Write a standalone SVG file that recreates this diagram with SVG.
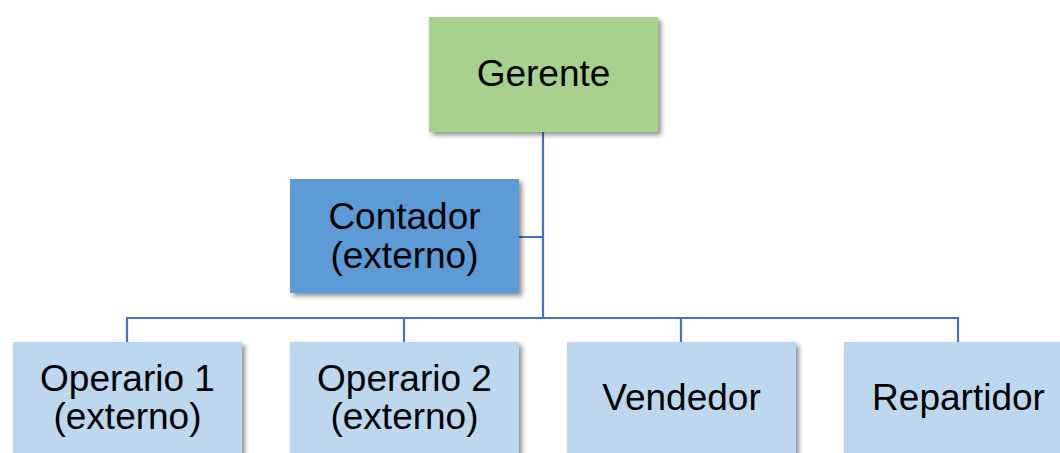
<svg xmlns="http://www.w3.org/2000/svg" width="1060" height="453" viewBox="0 0 1060 453">
<defs>
<filter id="sh" x="-10%" y="-10%" width="125%" height="130%">
<feGaussianBlur in="SourceAlpha" stdDeviation="2.5"/>
<feOffset dx="3" dy="3" result="b"/>
<feComponentTransfer><feFuncA type="linear" slope="0.45"/></feComponentTransfer>
<feMerge><feMergeNode/><feMergeNode in="SourceGraphic"/></feMerge>
</filter>
<style>
.box{filter:url(#sh);}
.g{fill:#A9D18E;}
.c{fill:#5B9BD5;}
.l{fill:#BDD7EE;}
text{font-family:"Liberation Sans",Arial,sans-serif;font-size:37px;fill:#000;text-anchor:middle;}
.conn{stroke:#4472C4;stroke-width:2.2;fill:none;}
</style>
</defs>
<rect width="1060" height="453" fill="#fff"/>
<g id="connectors">
<path class="conn" d="M543 132 V318 M519 237 H543 M127 342 V318 H958 V342 M404 318 V342 M681 318 V342"/>
</g>
<g id="gerente">
<rect class="box g" x="429" y="17" width="229" height="115"/>
<text x="543.5" y="86">Gerente</text>
</g>
<g id="contador">
<rect class="box c" x="290" y="179" width="229" height="114"/>
<text x="404.5" y="229">Contador</text>
<text x="404.5" y="268">(externo)</text>
</g>
<g id="operario1">
<rect class="box l" x="13" y="342" width="229" height="120"/>
<text x="127.5" y="391">Operario 1</text>
<text x="127.5" y="429">(externo)</text>
</g>
<g id="operario2">
<rect class="box l" x="290" y="342" width="229" height="120"/>
<text x="404.5" y="391">Operario 2</text>
<text x="404.5" y="429">(externo)</text>
</g>
<g id="vendedor">
<rect class="box l" x="567" y="342" width="229" height="120"/>
<text x="681.5" y="410">Vendedor</text>
</g>
<g id="repartidor">
<rect class="box l" x="844" y="342" width="229" height="120"/>
<text x="958.5" y="410">Repartidor</text>
</g>
</svg>
